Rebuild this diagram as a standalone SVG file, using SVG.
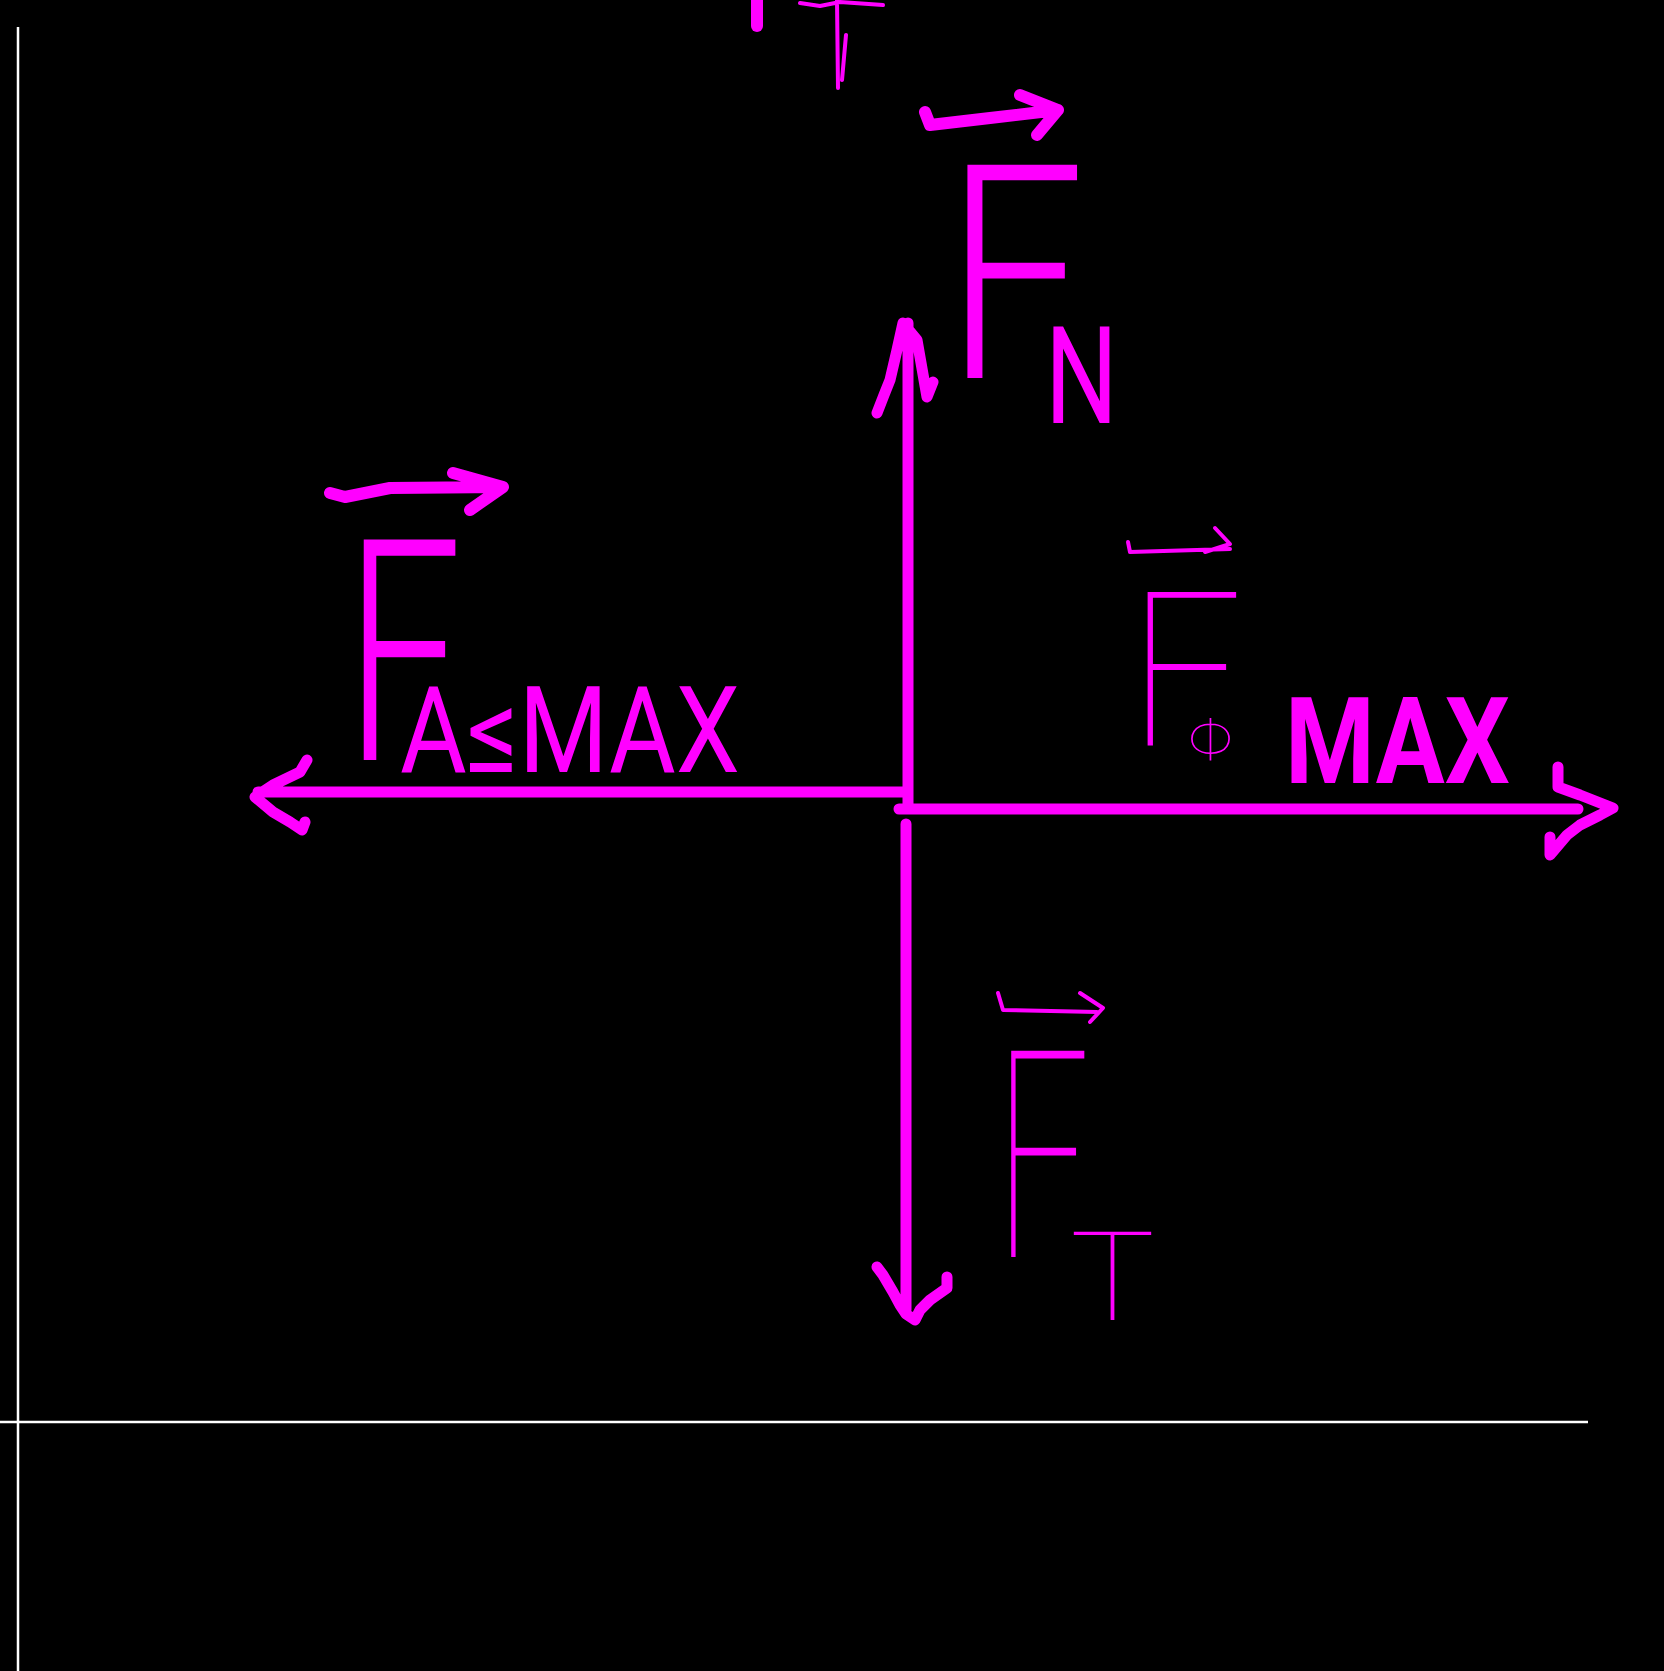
<svg xmlns="http://www.w3.org/2000/svg" width="1664" height="1671" viewBox="0 0 1664 1671">
<style>
.bg{fill:#000}
.guide{stroke:#fff;stroke-width:2.5;fill:none}
.axis{stroke:#FF00FF;stroke-width:11;fill:none;stroke-linecap:round;stroke-linejoin:round}
.heavy{stroke:#FF00FF;stroke-width:12;fill:none;stroke-linecap:round;stroke-linejoin:round}
.fine{stroke:#FF00FF;stroke-width:4;fill:none;stroke-linecap:round;stroke-linejoin:round}
.lbl{fill:#FF00FF;font-family:Roboto,Inter,"Open Sans","DejaVu Sans",sans-serif}
.w100{font-weight:100}.w300{font-weight:300}.w400{font-weight:400}.w700{font-weight:700}
</style>
<rect class="bg" x="0" y="0" width="1664" height="1671"/>
<g id="guides">
<line class="guide" x1="18" y1="27" x2="18" y2="1671"/>
<line class="guide" x1="0" y1="1422" x2="1588" y2="1422"/>
</g>
<g id="fragment">
<path class="heavy" d="M757,0 L757,26"/>
<path class="fine" d="M800,3 L820,6 L840,2 L883,5 M837,0 L838,88 M846,35 L842,80"/>
</g>
<g id="connectors">
<path id="axis-up" class="axis" d="M908,805 L908,323 M877,413 L884,395 L890,380 L897,350 L903,323 L917,340 L927,397 L933,382"/>
<path id="axis-left" class="axis" d="M906,792 L258,792 M307,760 L300,772 L273,785 L255,797 L273,812 L290,822 L302,830 L305,822"/>
<path id="axis-right" class="axis" d="M899,809 L1578,809 M1558,767 L1558,787 L1580,795 L1613,808 L1600,815 L1580,825 L1567,835 L1550,855 L1550,837"/>
<path id="axis-down" class="axis" d="M906,824 L906,1310 M877,1267 L883,1275 L893,1292 L900,1305 L906,1314 L915,1320 L920,1310 L930,1300 L947,1288 L947,1277"/>
</g>
<g id="label-FN">
<path class="heavy" d="M925,112 L930,125 L990,118 L1058,110 M1020,95 L1058,110 L1037,135"/>
<text class="lbl"><tspan class="w300" x="945" y="378" font-size="300" textLength="140" lengthAdjust="spacingAndGlyphs">F</tspan><tspan class="w400" x="1045" y="423" font-size="135" textLength="73" lengthAdjust="spacingAndGlyphs">N</tspan></text>
</g>
<g id="label-FA">
<path class="heavy" d="M330,493 L345,497 L390,488 L503,487 M453,473 L503,487 L470,510"/>
<text class="lbl"><tspan class="w300" x="345" y="760" font-size="310" textLength="117" lengthAdjust="spacingAndGlyphs">F</tspan><tspan class="w400" x="400" y="772" font-size="120" textLength="340" lengthAdjust="spacingAndGlyphs">A≤MAX</tspan></text>
</g>
<g id="label-FPhi">
<path class="fine" d="M1128,542 L1130,552 L1230,549 M1215,528 L1230,544 L1205,552"/>
<text class="lbl"><tspan class="w100" x="1128" y="745" font-size="215" textLength="115" lengthAdjust="spacingAndGlyphs">F</tspan><tspan class="w100" x="1188" y="760" font-size="60" textLength="45" lengthAdjust="spacingAndGlyphs">Φ</tspan><tspan class="w700" x="1285" y="783" font-size="120" textLength="225" lengthAdjust="spacingAndGlyphs">MAX</tspan></text>
</g>
<g id="label-FT">
<path class="fine" d="M998,993 L1003,1010 L1097,1012 M1080,993 L1103,1008 L1090,1022"/>
<text class="lbl"><tspan class="w100" x="995" y="1257" font-size="290" textLength="95" lengthAdjust="spacingAndGlyphs">F</tspan><tspan class="w100" x="1070" y="1320" font-size="125" textLength="85" lengthAdjust="spacingAndGlyphs">T</tspan></text>
</g>
</svg>
